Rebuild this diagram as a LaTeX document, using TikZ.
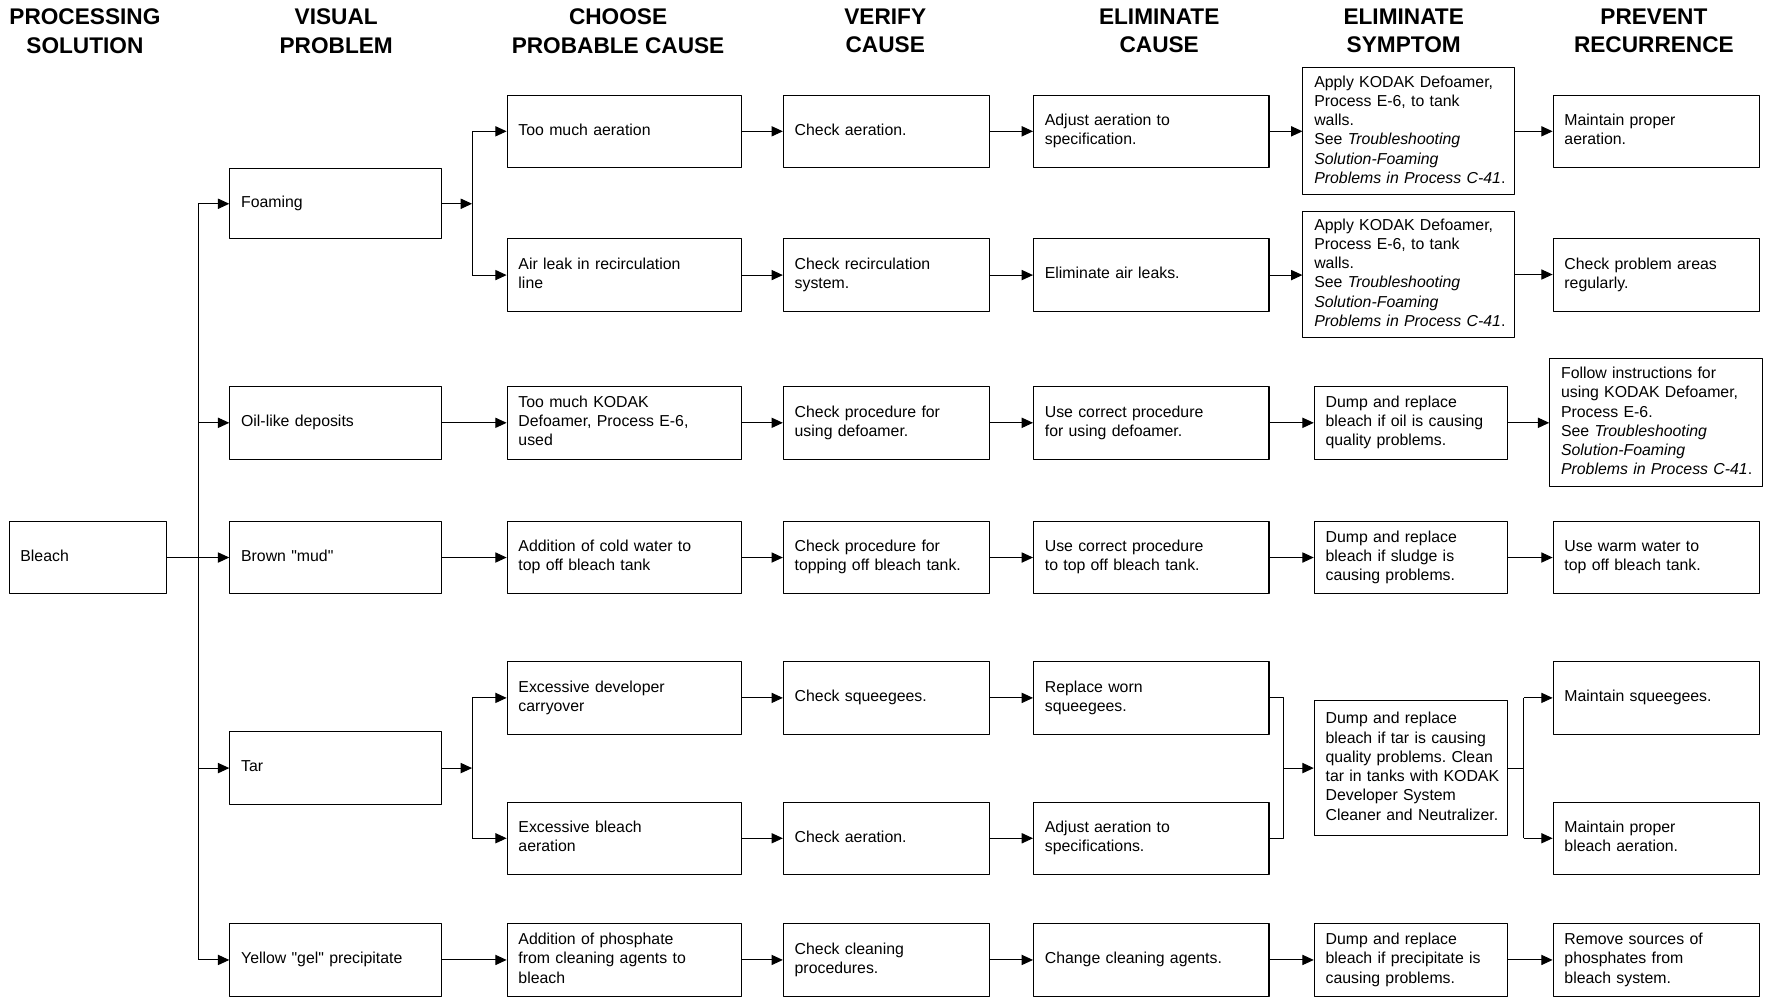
\documentclass[tikz,border=0pt]{standalone}
\usepackage{fontspec}
\setmainfont{Liberation Sans}
\usetikzlibrary{arrows.meta}
\newcommand{\boxtext}[1]{\begin{tabular}{@{}l@{}}#1\end{tabular}}
\begin{document}
\begin{tikzpicture}[x=1pt, y=-1pt, line join=round, >={Triangle[length=10pt,width=9pt]},
	box/.style={draw, line width=0.9pt, align=left, inner xsep=10pt, inner ysep=0pt, minimum height=64pt, font=\fontsize{14}{17}\selectfont\frenchspacing},
	head/.style={align=center, font=\bfseries\fontsize{20}{25}\selectfont},
	wire/.style={line width=0.9pt}]
	\def\xa{77.5} \def\xb{296.5} \def\xc{551.5} \def\xd{783} % cot
	\def\xe{1017} \def\xf{1246.5} \def\xg{1463}
	\useasboundingbox (0,0) rectangle (1568,883);
	% tieu de
	\node[head] (hsol) at (75,27.5) {PROCESSING\\SOLUTION};
	\node[head] (hvis) at (297,27.5) {VISUAL\\PROBLEM};
	\node[head] (hcho) at (546,27.5) {CHOOSE\\PROBABLE CAUSE};
	\node[head] (hver) at (782,27.5) {VERIFY\\CAUSE};
	\node[head] (helc) at (1024,27.5) {ELIMINATE\\CAUSE};
	\node[head] (hels) at (1240,27.5) {ELIMINATE\\SYMPTOM};
	\node[head] (hpre) at (1461,27.5) {PREVENT\\RECURRENCE};
	% hop
	\node[box, text width=119pt] (bleach) at (\xa,492.5) {\boxtext{Bleach}};
	\node[box, text width=167pt, minimum height=62pt] (foam) at (\xb,180) {\boxtext{Foaming}};
	\node[box, text width=167pt] (oil) at (\xb,373.5) {\boxtext{Oil-like deposits}};
	\node[box, text width=167pt] (mud) at (\xb,492.5) {\boxtext{Brown \textquotedbl mud\textquotedbl}};
	\node[box, text width=167pt] (tar) at (\xb,678.5) {\boxtext{Tar}};
	\node[box, text width=167pt] (gel) at (\xb,848) {\boxtext{Yellow \textquotedbl gel\textquotedbl{} precipitate}};
	\node[box, text width=187pt] (aer) at (\xc,116) {\boxtext{Too much aeration}};
	\node[box, text width=187pt] (leak) at (\xc,243) {\boxtext{Air leak in recirculation\\line}};
	\node[box, text width=187pt] (kodak) at (\xc,373.5) {\boxtext{Too much KODAK\\Defoamer, Process E-6,\\used}};
	\node[box, text width=187pt] (cold) at (\xc,492.5) {\boxtext{Addition of cold water to\\top off bleach tank}};
	\node[box, text width=187pt] (dev) at (\xc,616.5) {\boxtext{Excessive developer\\carryover}};
	\node[box, text width=187pt] (bair) at (\xc,740.5) {\boxtext{Excessive bleach\\aeration}};
	\node[box, text width=187pt] (phos) at (\xc,848) {\boxtext{Addition of phosphate\\from cleaning agents to\\bleach}};
	\node[box, text width=162pt] (chkaer) at (\xd,116) {\boxtext{Check aeration.}};
	\node[box, text width=162pt] (chkrec) at (\xd,243) {\boxtext{Check recirculation\\system.}};
	\node[box, text width=162pt] (chkdef) at (\xd,373.5) {\boxtext{Check procedure for\\using defoamer.}};
	\node[box, text width=162pt] (chktop) at (\xd,492.5) {\boxtext{Check procedure for\\topping off bleach tank.}};
	\node[box, text width=162pt] (chksq) at (\xd,616.5) {\boxtext{Check squeegees.}};
	\node[box, text width=162pt] (chkbair) at (\xd,740.5) {\boxtext{Check aeration.}};
	\node[box, text width=162pt] (chkcln) at (\xd,848) {\boxtext{Check cleaning\\procedures.}};
	\node[box, text width=188pt] (adj) at (\xe,116) {\boxtext{Adjust aeration to\\specification.}};
	\node[box, text width=188pt] (elim) at (\xe,243) {\boxtext{Eliminate air leaks.}};
	\node[box, text width=188pt] (usedef) at (\xe,373.5) {\boxtext{Use correct procedure\\for using defoamer.}};
	\node[box, text width=188pt] (usetop) at (\xe,492.5) {\boxtext{Use correct procedure\\to top off bleach tank.}};
	\node[box, text width=188pt] (worn) at (\xe,616.5) {\boxtext{Replace worn\\squeegees.}};
	\node[box, text width=188pt] (adjb) at (\xe,740.5) {\boxtext{Adjust aeration to\\specifications.}};
	\node[box, text width=188pt] (chg) at (\xe,848) {\boxtext{Change cleaning agents.}};
	\node[box, text width=167pt, minimum height=112pt] (apply1) at (1244.5,116) {\boxtext{Apply KODAK Defoamer,\\Process E-6, to tank\\walls.\\See \textit{Troubleshooting}\\\textit{Solution-Foaming}\\\textit{Problems in Process C-41}.}};
	\node[box, text width=167pt, minimum height=111pt] (apply2) at (1244.5,242.5) {\boxtext{Apply KODAK Defoamer,\\Process E-6, to tank\\walls.\\See \textit{Troubleshooting}\\\textit{Solution-Foaming}\\\textit{Problems in Process C-41}.}};
	\node[box, text width=151pt] (dumpoil) at (\xf,373.5) {\boxtext{Dump and replace\\bleach if oil is causing\\quality problems.}};
	\node[box, text width=151pt] (dumpsl) at (\xf,492.5) {\boxtext{Dump and replace\\bleach if sludge is\\causing problems.}};
	\node[box, text width=151pt, minimum height=119pt] (dumptar) at (\xf,678.5) {\boxtext{Dump and replace\\bleach if tar is causing\\quality problems. Clean\\tar in tanks with KODAK\\Developer System\\Cleaner and Neutralizer.}};
	\node[box, text width=151pt] (dumppr) at (\xf,848) {\boxtext{Dump and replace\\bleach if precipitate is\\causing problems.}};
	\node[box, text width=162pt] (maint) at (\xg,116) {\boxtext{Maintain proper\\aeration.}};
	\node[box, text width=162pt] (chkar) at (\xg,243) {\boxtext{Check problem areas\\regularly.}};
	\node[box, text width=168pt, minimum height=113pt] (follow) at (\xg,373.5) {\boxtext{Follow instructions for\\using KODAK Defoamer,\\Process E-6.\\See \textit{Troubleshooting}\\\textit{Solution-Foaming}\\\textit{Problems in Process C-41}.}};
	\node[box, text width=162pt] (warm) at (\xg,492.5) {\boxtext{Use warm water to\\top off bleach tank.}};
	\node[box, text width=162pt] (msq) at (\xg,616.5) {\boxtext{Maintain squeegees.}};
	\node[box, text width=162pt] (mbl) at (\xg,740.5) {\boxtext{Maintain proper\\bleach aeration.}};
	\node[box, text width=162pt] (rem) at (\xg,848) {\boxtext{Remove sources of\\phosphates from\\bleach system.}};
	% duong noi
	\coordinate (busV) at (175,0);
	\coordinate (splitF) at (417,0);
	\coordinate (mergeT) at (1134,0);
	\coordinate (splitT) at (1346,0);
	\draw[wire] (busV |- foam.west) -- (busV |- gel.west);
	\draw[wire,->] (bleach.east) -- (mud.west);
	\foreach \n in {foam,oil,tar,gel} \draw[wire,->] (busV |- \n.west) -- (\n.west);
	\draw[wire,->] (foam.east) -- (foam.east -| splitF);
	\draw[wire] (splitF |- aer.west) -- (splitF |- leak.west);
	\draw[wire,->] (tar.east) -- (tar.east -| splitF);
	\draw[wire] (splitF |- dev.west) -- (splitF |- bair.west);
	\foreach \n in {aer,leak,dev,bair} \draw[wire,->] (splitF |- \n.west) -- (\n.west);
	\foreach \a/\b in {oil/kodak,mud/cold,gel/phos,
		aer/chkaer,chkaer/adj,adj/apply1,apply1/maint,
		leak/chkrec,chkrec/elim,elim/apply2,apply2/chkar,
		kodak/chkdef,chkdef/usedef,usedef/dumpoil,dumpoil/follow,
		cold/chktop,chktop/usetop,usetop/dumpsl,dumpsl/warm,
		dev/chksq,chksq/worn,bair/chkbair,chkbair/adjb,
		phos/chkcln,chkcln/chg,chg/dumppr,dumppr/rem}
		\draw[wire,->] (\a.east) -- (\a.east -| \b.west);
	\draw[wire] (worn.east) -- (worn.east -| mergeT) -- (adjb.east -| mergeT) -- (adjb.east);
	\draw[wire,->] (mergeT |- dumptar.west) -- (dumptar.west);
	\draw[wire] (dumptar.east) -- (dumptar.east -| splitT);
	\draw[wire] (splitT |- msq.west) -- (splitT |- mbl.west);
	\foreach \n in {msq,mbl} \draw[wire,->] (splitT |- \n.west) -- (\n.west);
\end{tikzpicture}
\end{document}
